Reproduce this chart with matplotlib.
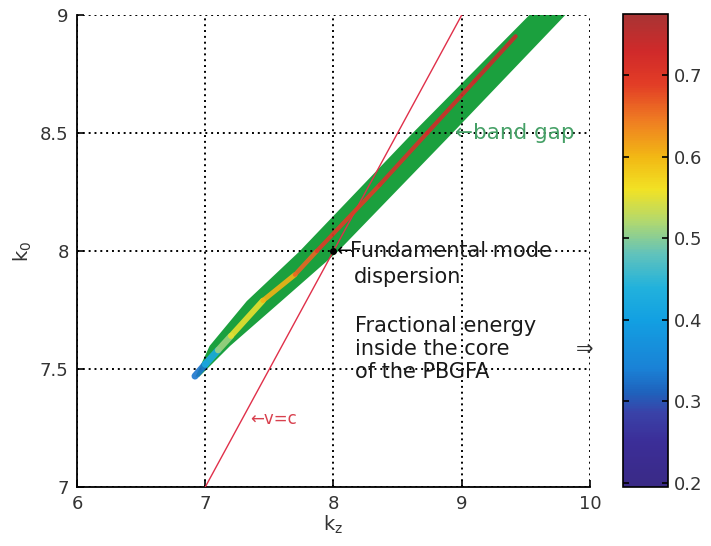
import numpy as np
import matplotlib
matplotlib.use("Agg")
import matplotlib.pyplot as plt
from matplotlib.colors import LinearSegmentedColormap, Normalize
from matplotlib.collections import LineCollection
from matplotlib.cm import ScalarMappable

plt.rcParams['font.family'] = ['DejaVu Sans']
plt.rcParams['mathtext.fontset'] = 'dejavusans'

# ---- data ----
# fundamental-mode dispersion curve (kz, k0) and fractional energy in core
mode_kz = [6.92, 7.00, 7.10, 7.20, 7.45, 7.70, 7.87, 8.36, 8.73, 9.10, 9.42]
mode_k0 = [7.47, 7.52, 7.58, 7.64, 7.79, 7.90, 8.00, 8.28, 8.50, 8.72, 8.91]
mode_energy = [0.30, 0.36, 0.48, 0.54, 0.57, 0.64, 0.68, 0.71, 0.72, 0.73, 0.74]

# band-gap region: for each k0, left and right kz limits
gap_k0 = [7.47, 7.60, 7.79, 8.00, 8.50, 9.00, 9.10]
gap_kz_left = [6.92, 7.03, 7.32, 7.73, 8.61, 9.52, 9.70]
gap_kz_right = [6.95, 7.19, 7.59, 8.03, 8.92, 9.80, 9.98]

# light line v = c  (k0 = kz)
light_kz = [7.0, 9.0]
light_k0 = [7.0, 9.0]

x_ticks = [6, 7, 8, 9, 10]
y_ticks = [7, 7.5, 8, 8.5, 9]
y_ticklabels = ['7', '7.5', '8', '8.5', '9']
cbar_ticks = [0.2, 0.3, 0.4, 0.5, 0.6, 0.7]
cbar_range = [0.195, 0.775]

# colormap anchor colours (value, colour)
cmap_vals = [0.195, 0.25, 0.285, 0.31, 0.34, 0.40, 0.44, 0.48, 0.52, 0.56,
             0.60, 0.645, 0.69, 0.73, 0.775]
cmap_cols = ['#3a2a86', '#3b2e98', '#3a42a8', '#1f62bc', '#1a82d6', '#12a0e2',
             '#22b2dc', '#60c2bc', '#b0d870', '#f2e224', '#f2b814', '#ef7c22',
             '#e23c26', '#d02a2a', '#a83434']

# ---- figure ----
fig = plt.figure(figsize=(7.11, 5.46), dpi=100)
ax = fig.add_axes([0.1083, 0.108, 0.7215, 0.8645])

vmin, vmax = cbar_range
pos = [(v - vmin) / (vmax - vmin) for v in cmap_vals]
cmap = LinearSegmentedColormap.from_list('frac', list(zip(pos, cmap_cols)))
norm = Normalize(vmin=vmin, vmax=vmax)

# band gap
ax.fill_betweenx(gap_k0, gap_kz_left, gap_kz_right, color='#1ba03e',
                 linewidth=0, zorder=2)

# light line
ax.plot(light_kz, light_k0, color='#e0304a', linewidth=1.0, zorder=3)

# mode curve coloured by fractional energy
pts = np.column_stack([mode_kz, mode_k0])
segs = np.stack([pts[:-1], pts[1:]], axis=1)
seg_e = [(a + b) / 2 for a, b in zip(mode_energy[:-1], mode_energy[1:])]
widths = [5.0, 5.0, 4.6, 4.2, 3.6, 3.2, 3.0, 3.0, 3.0, 3.0]
lc = LineCollection(segs, cmap=cmap, norm=norm, linewidths=widths,
                    capstyle='round', alpha=0.9, zorder=4)
lc.set_array(np.array(seg_e))
ax.add_collection(lc)

# marker at fundamental mode arrow
ax.plot([8.0], [8.0], 'o', color='black', markersize=4, zorder=6)

ax.set_xlim(6, 10)
ax.set_ylim(7, 9)
ax.set_xticks(x_ticks)
ax.set_yticks(y_ticks)
ax.set_yticklabels(y_ticklabels)
ax.grid(True, color='black', linestyle=(0, (1, 2.0)), linewidth=1.4)
ax.set_axisbelow(False)
for s in ['top', 'right']:
    ax.spines[s].set_visible(False)
for s in ['left', 'bottom']:
    ax.spines[s].set_linewidth(1.3)
ax.tick_params(direction='in', length=5, width=1.2, labelsize=13,
               labelcolor='#333333', pad=6)
ax.set_xlabel(r'$\mathregular{k_z}$', fontsize=14, color='#333333', labelpad=0)
ax.set_ylabel(r'$\mathregular{k_0}$', fontsize=14, color='#333333', labelpad=4)

# annotations
ax.text(8.95, 8.5, '←band gap', color='#45a066', fontsize=15.5,
        ha='left', va='center', zorder=7)
ax.text(8.02, 8.0, '←', color='black', fontsize=13, ha='left', va='center',
        zorder=7)
ax.text(8.13, 8.0, 'Fundamental mode', color='#1a1a1a', fontsize=15,
        ha='left', va='center', zorder=7)
ax.text(8.16, 7.89, 'dispersion', color='#1a1a1a', fontsize=15,
        ha='left', va='center', zorder=7)
ax.text(8.17, 7.725, 'Fractional energy\ninside the core\nof the PBGFA',
        color='#1a1a1a', fontsize=15, ha='left', va='top',
        linespacing=1.2, zorder=7)
ax.text(9.89, 7.585, '⇒', color='#333333', fontsize=15, ha='left',
        va='center', clip_on=False, zorder=7)
ax.text(7.35, 7.29, '←v=c', color='#d8404e', fontsize=12, ha='left',
        va='center', zorder=7)

# colourbar
cax = fig.add_axes([0.876, 0.108, 0.0635, 0.8665])
sm = ScalarMappable(norm=norm, cmap=cmap)
cb = fig.colorbar(sm, cax=cax, ticks=cbar_ticks)
cb.ax.set_yticklabels(['0.2', '0.3', '0.4', '0.5', '0.6', '0.7'])
cb.outline.set_linewidth(1.2)
cb.ax.tick_params(direction='in', left=True, right=True, length=4, width=1.2,
                  labelsize=13, labelcolor='#333333', pad=4)

fig.savefig('out.png', dpi=100)
